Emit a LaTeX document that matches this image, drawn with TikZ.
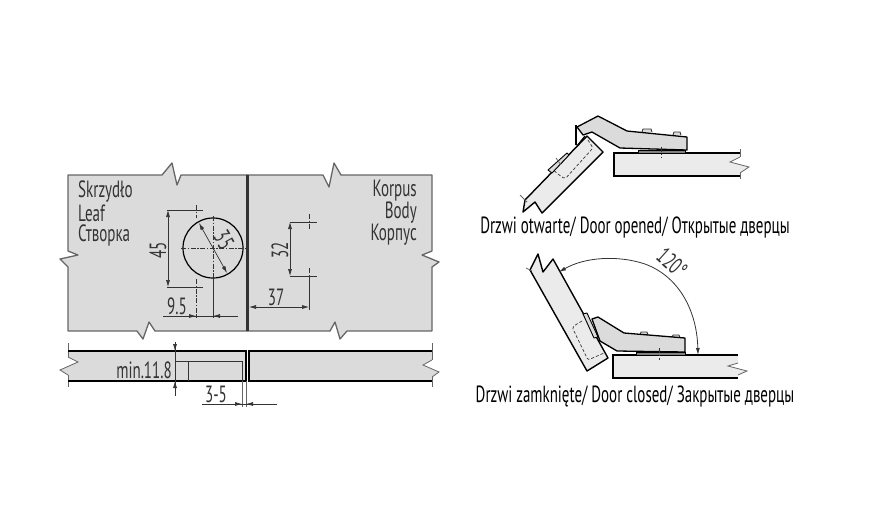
\documentclass[tikz,border=0pt]{standalone}
\usepackage{fontspec}
\setmainfont[FakeStretch=0.64]{PT Sans}
\usetikzlibrary{arrows.meta}
\definecolor{panelfill}{HTML}{DBDBDB}
\definecolor{platefill}{HTML}{EBEBEB}
\definecolor{edgegray}{HTML}{666666}
\definecolor{inkgray}{HTML}{333333}
\tikzset{
  panel/.style = {draw=edgegray, line width=1.3pt, fill=panelfill, line join=round},
  strip/.style = {fill=panelfill},
  bold/.style = {line width=1.5pt, black},
  thin/.style = {line width=0.7pt, inkgray},
  tick/.style = {line width=0.8pt, edgegray},
  dim/.style = {line width=0.7pt, inkgray},
  axis/.style = {line width=0.6pt, inkgray, dash pattern=on 5pt off 1.5pt on 1.5pt off 1.5pt},
  hidden/.style = {line width=0.7pt, inkgray, dash pattern=on 3pt off 2pt, rounded corners=2pt},
  tip/.style = {-{Latex[length=7pt,width=4pt]}},
  door/.style = {draw=black, line width=1.4pt, fill=platefill, line join=round},
  arm/.style = {draw=black, line width=1.3pt, fill=panelfill, line join=round},
  seat/.style = {draw=black, line width=0.8pt, fill=gray},
  screw/.style = {draw=inkgray, line width=0.9pt, fill=panelfill},
  label/.style = {font=\fontsize{23.5}{25}\selectfont, text=inkgray, inner sep=0pt},
  caption/.style = {font=\fontsize{23.4}{25}\selectfont, text=black, inner sep=0pt},
}
\begin{document}
\begin{tikzpicture}[x=1pt, y=-1pt]
  \useasboundingbox (0,0) rectangle (889,515);

  \draw[panel] (68,175) -- (162,175) -- (172,163) -- (177,185) -- (181,175) -- (247,175)
    -- (247,331) -- (155,331) -- (149,322) -- (143,339) -- (137,331) -- (68,331)
    -- (68,267) -- (60,259) -- (78,255) -- (68,251) -- cycle;
  \draw[panel] (247,175) -- (323,175) -- (329,187) -- (334,163) -- (341,175) -- (432,175)
    -- (432,251) -- (422,255) -- (439,262) -- (432,267) -- (432,331)
    -- (347,331) -- (340,339) -- (335,322) -- (330,331) -- (247,331) -- cycle;
  \draw[line width=3pt, inkgray] (247,175) -- (247,331);

  \node[label, anchor=west] (leafpl) at (78,192) {Skrzydło};
  \node[label, anchor=west] (leafen) at (78,213) {Leaf};
  \node[label, anchor=west] (leafru) at (78,235) {Створка};
  \node[label, anchor=east] (bodypl) at (417,191) {Korpus};
  \node[label, anchor=east] (bodyen) at (417,213) {Body};
  \node[label, anchor=east] (bodyru) at (417,235) {Корпус};

  \draw[line width=1.2pt, black] (213,248) circle (30);
  \draw[axis] (181,248) -- (245,248);
  \draw[axis] (213,216) -- (213,280);
  \draw[dim, tip] (213,248) -- (199,223);
  \draw[dim, tip] (213,248) -- (227,273);
  \node[label, rotate=-60] (holedia) at (224,240) {35};

  \draw[dim] (167,210) -- (203,210);
  \draw[dim] (167,287) -- (203,287);
  \draw[axis] (196,205) -- (196,218);
  \draw[axis] (196,279) -- (196,318);
  \draw[dim] (213,278) -- (213,318);
  \draw[dim, {Latex[length=7pt,width=4pt]}-{Latex[length=7pt,width=4pt]}] (168,210) -- (168,287);
  \node[label, rotate=90] (holedist) at (158,250) {45};
  \draw[dim] (163,316) -- (238,316);
  \draw[dim, tip] (186,316) -- (196,316);
  \draw[dim, tip] (222,316) -- (213,316);
  \node[label] (holeedge) at (177,306) {9.5};

  \draw[dim] (290,222) -- (317,222);
  \draw[dim] (290,276) -- (317,276);
  \draw[axis] (309,214) -- (309,230);
  \draw[axis] (309,268) -- (309,282);
  \draw[dim] (309,276) -- (309,310);
  \draw[dim, {Latex[length=7pt,width=4pt]}-{Latex[length=7pt,width=4pt]}] (290,222) -- (290,276);
  \node[label, rotate=90] (screwdist) at (280,250) {32};
  \draw[dim, {Latex[length=7pt,width=4pt]}-{Latex[length=7pt,width=4pt]}] (249,307) -- (309,307);
  \node[label] (screwedge) at (276,297) {37};

  \fill[strip] (68,351) -- (246,351) -- (246,381) -- (68,381) -- (68,375) -- (60,370) -- (78,362) -- (68,357) -- cycle;
  \fill[strip] (249,351) -- (432,351) -- (432,360) -- (423,365) -- (439,372) -- (432,377) -- (432,381) -- (249,381) -- cycle;
  \draw[tick] (68,357) -- (78,362) -- (60,370) -- (68,375);
  \draw[tick] (432,360) -- (423,365) -- (439,372) -- (432,377);
  \draw[tick] (68,343) -- (68,357) (68,375) -- (68,387);
  \draw[tick] (432,343) -- (432,360) (432,377) -- (432,387);
  \draw[bold] (68,351) -- (246,351) -- (246,381) -- (68,381);
  \draw[bold] (432,351) -- (249,351) -- (249,381) -- (432,381);
  \draw[thin] (175,361) -- (242,361) -- (242,381);
  \draw[thin] (188,361) -- (188,381);
  \draw[dim] (175,343) -- (175,396);
  \draw[dim, tip] (175,342) -- (175,351);
  \draw[dim, tip] (175,391) -- (175,381);
  \node[label, anchor=east] (depth) at (172,370) {min.11.8};
  \draw[tick] (242,381) -- (242,407);
  \draw[tick] (246,381) -- (246,407);
  \draw[dim] (202,404) -- (277,404);
  \draw[dim, tip] (232,404) -- (242,404);
  \draw[dim, tip] (256,404) -- (246,404);
  \node[label] (overlap) at (216,394) {3-5};

  \fill[platefill] (614,153) -- (740,153) -- (740,157) -- (730,162) -- (749,167) -- (740,173) -- (740,176) -- (614,176) -- cycle;
  \draw[bold] (740,153) -- (614,153) -- (614,176) -- (740,176);
  \draw[tick] (740,157) -- (730,162) -- (749,167) -- (740,173);
  \draw[tick] (740,149) -- (740,157) (740,173) -- (740,179);
  \draw[door] (525,200) -- (587,136) -- (603,152) -- (542,213) -- (535,202) -- (523,212) -- cycle;
  \draw[tick] (520,195) -- (527,202);
  \draw[hidden] (588,140) -- (593,148) -- (565,179) -- (555,172) -- (552,167);
  \draw[door, line width=0.9pt, fill=panelfill] (548,170) -- (567,153) -- (569,155) -- (552,173) -- cycle;
  \draw[tick] (556,158) -- (561,165);
  \draw[screw] (642,132) -- (643,129) -- (651,129) -- (652,132);
  \draw[screw] (673,135) -- (674,132) -- (680,132) -- (681,135);
  \draw[arm] (577,127) -- (598,116) -- (627,131) -- (687,137) -- (687,150) -- (620,148) -- (592,132) -- (583,135) -- cycle;
  \draw[line width=1.2pt, black] (576,125) -- (576,145);
  \draw[line width=1.2pt, black] (577,146) -- (585,136);
  \draw[seat] (638,150) rectangle (685,153);
  \draw[axis] (661,147) -- (661,158);
  \node[caption] (openlabel) at (635,228) {Drzwi otwarte/ Door opened/ Открытые дверцы};

  \fill[platefill] (613,355) -- (738,355) -- (738,363) -- (728,366) -- (747,371) -- (738,375) -- (738,378) -- (613,378) -- cycle;
  \draw[bold] (738,355) -- (613,355) -- (613,378) -- (738,378);
  \draw[tick] (738,363) -- (728,366) -- (747,371) -- (738,375);
  \draw[door] (530,270) -- (587,371) -- (608,358) -- (553,259) -- (543,272) -- (538,254) -- cycle;
  \draw[tick] (526,268) -- (532,271);
  \draw[hidden] (582,321) -- (572,327) -- (588,360) -- (604,353);
  \draw[screw] (640,335) -- (641,332) -- (647,332) -- (648,335);
  \draw[screw] (672,338) -- (673,335) -- (679,335) -- (680,338);
  \draw[arm] (592,319) -- (598,317) -- (624,333) -- (685,338) -- (685,352) -- (617,351) -- (600,341) -- cycle;
  \draw[door, line width=0.9pt, fill=panelfill] (583,314) -- (587,313) -- (598,337) -- (594,338) -- cycle;
  \draw[seat] (636,352) rectangle (685,355);
  \draw[axis] (659,348) -- (659,360);
  \draw[dim, line width=0.8pt, {Latex[length=7pt,width=4pt]}-{Latex[length=7pt,width=4pt]}] (559,272) .. controls (585,257) and (618,255) .. (645,264) .. controls (680,277) and (697,312) .. (698,355);
  \node[label, rotate=-42] (anglelabel) at (672,263) {120°};
  \node[caption] (closedlabel) at (635,397) {Drzwi zamknięte/ Door closed/ Закрытые  дверцы};
\end{tikzpicture}
\end{document}
